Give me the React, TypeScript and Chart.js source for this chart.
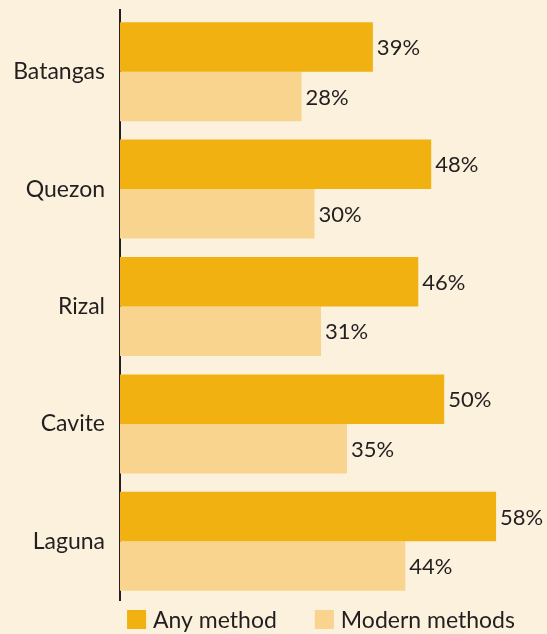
import React, { useEffect, useRef } from "react";
import { Chart, registerables } from "chart.js";

Chart.register(...registerables);

const provinces = ["Batangas", "Quezon", "Rizal", "Cavite", "Laguna"];
const anyMethod = [39, 48, 46, 50, 58];
const modernMethods = [28, 30, 31, 35, 44];
const seriesNames = ["Any method", "Modern methods"];

const BG = "#FCF1DC";
const DARK = "#F0B111";
const LIGHT = "#F8D48E";
const INK = "#231F20";
const FONT = "Lato, 'Open Sans', sans-serif";

const valueLabels = {
  id: "valueLabels",
  afterDatasetsDraw(chart: any) {
    const ctx = chart.ctx;
    ctx.save();
    ctx.font = `22px ${FONT}`;
    ctx.fillStyle = INK;
    ctx.textAlign = "left";
    ctx.textBaseline = "middle";
    chart.data.datasets.forEach((ds: any, i: number) => {
      const meta = chart.getDatasetMeta(i);
      meta.data.forEach((bar: any, j: number) => {
        ctx.fillText(`${ds.data[j]}%`, bar.x + 4, bar.y + 1);
      });
    });
    ctx.restore();
  },
};

const axisExtension = {
  id: "axisExtension",
  afterDraw(chart: any) {
    const ctx = chart.ctx;
    const area = chart.chartArea;
    ctx.save();
    ctx.strokeStyle = INK;
    ctx.lineWidth = 2;
    ctx.beginPath();
    ctx.moveTo(area.left, area.top - 4);
    ctx.lineTo(area.left, area.top + 1);
    ctx.stroke();
    ctx.restore();
  },
};

const customLegend = {
  id: "customLegend",
  afterDraw(chart: any) {
    const ctx = chart.ctx;
    const area = chart.chartArea;
    ctx.save();
    ctx.font = `23px ${FONT}`;
    const box = 19;
    const gapText = 7;
    const gapItems = 38;
    const items = chart.data.datasets.map((ds: any) => ({
      label: ds.label,
      color: ds.backgroundColor,
      w: ctx.measureText(ds.label).width,
    }));
    let total = 0;
    items.forEach((it: any, i: number) => {
      total += box + gapText + it.w + (i < items.length - 1 ? gapItems : 0);
    });
    let x = (area.left + area.right) / 2 - total / 2;
    const yTop = 610;
    items.forEach((it: any) => {
      ctx.fillStyle = it.color;
      ctx.fillRect(x, yTop, box, box);
      ctx.fillStyle = INK;
      ctx.textAlign = "left";
      ctx.textBaseline = "alphabetic";
      ctx.fillText(it.label, x + box + gapText, yTop + box - 1);
      x += box + gapText + it.w + gapItems;
    });
    ctx.restore();
  },
};

export default function App() {
  const ref = useRef<HTMLCanvasElement>(null);
  useEffect(() => {
    document.body.style.margin = "0";
    document.body.style.background = BG;
    const chart = new Chart(ref.current!, {
      type: "bar",
      data: {
        labels: provinces,
        datasets: [
          { label: seriesNames[0], data: anyMethod, backgroundColor: DARK },
          { label: seriesNames[1], data: modernMethods, backgroundColor: LIGHT },
        ],
      },
      options: {
        indexAxis: "y",
        animation: false,
        responsive: false,
        maintainAspectRatio: false,
        layout: { padding: { top: 13, right: 25, bottom: 34, left: 0 } },
        datasets: { bar: { categoryPercentage: 0.843, barPercentage: 1 } },
        plugins: {
          legend: { display: false },
          tooltip: { enabled: false },
        },
        scales: {
          x: {
            display: false,
            min: 0,
            max: 62,
          },
          y: {
            grid: { display: false, drawTicks: false },
            border: { display: true, color: INK, width: 2 },
            ticks: {
              color: INK,
              padding: 15,
              font: { family: FONT, size: 23 },
            },
            afterFit(scale: any) {
              scale.width = 120;
              scale.paddingTop = 0;
              scale.paddingBottom = 0;
            },
          },
        },
      },
      plugins: [valueLabels, axisExtension, customLegend],
    });
    return () => chart.destroy();
  }, []);
  return (
    <div style={{ width: 547, height: 634, background: BG, position: "relative" }}>
      <canvas ref={ref} width={547} height={634} style={{ display: "block" }} />
    </div>
  );
}
